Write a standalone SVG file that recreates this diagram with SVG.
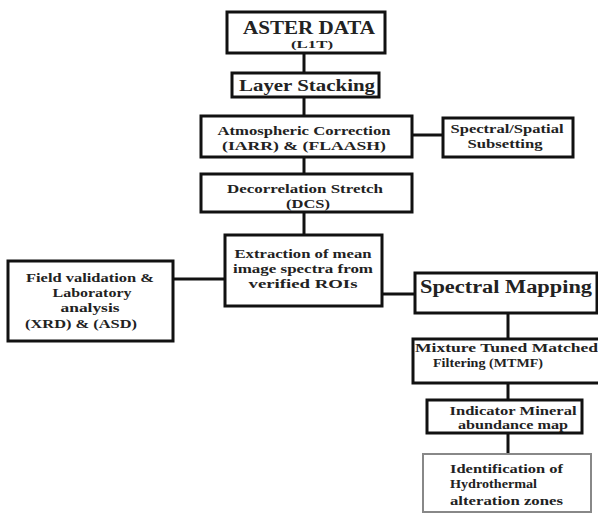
<svg xmlns="http://www.w3.org/2000/svg" width="598" height="517" viewBox="0 0 598 517" font-family="Liberation Serif, serif" font-weight="bold">
<style>
.box{fill:#fff;stroke:#111;stroke-width:3}
.ln{stroke:#111;stroke-width:3;fill:none}
text{fill:#222;font-size:13px}
.c{text-anchor:middle}
</style>
<rect width="598" height="517" fill="#fff"/>
<g id="connectors">
<line class="ln" x1="304" y1="53" x2="304" y2="73"/>
<line class="ln" x1="304" y1="97" x2="304" y2="116"/>
<line class="ln" x1="412" y1="135" x2="443" y2="135"/>
<line class="ln" x1="304" y1="157" x2="304" y2="174"/>
<line class="ln" x1="304" y1="212" x2="304" y2="235"/>
<line class="ln" x1="173" y1="279" x2="225" y2="279"/>
<line class="ln" x1="382" y1="294" x2="415" y2="294"/>
<line class="ln" x1="508" y1="313" x2="508" y2="339"/>
<line class="ln" x1="508" y1="383" x2="508" y2="400"/>
<line class="ln" x1="508" y1="433" x2="508" y2="454"/>
</g>
<g id="aster">
<rect class="box" x="227" y="12" width="158" height="41"/>
<text class="c" x="309" y="34" style="font-size:19px" textLength="132" lengthAdjust="spacingAndGlyphs">ASTER DATA</text>
<text class="c" x="312" y="48" style="font-size:11px" textLength="42" lengthAdjust="spacingAndGlyphs">(L1T)</text>
</g>
<g id="layer">
<rect class="box" x="232" y="73" width="147" height="24"/>
<text class="c" x="307" y="91" style="font-size:17px" textLength="136" lengthAdjust="spacingAndGlyphs">Layer Stacking</text>
</g>
<g id="atmos">
<rect class="box" x="201" y="116" width="211" height="41"/>
<text class="c" x="304" y="135" textLength="173" lengthAdjust="spacingAndGlyphs">Atmospheric Correction</text>
<text class="c" x="304" y="150" textLength="164" lengthAdjust="spacingAndGlyphs">(IARR) &amp; (FLAASH)</text>
</g>
<g id="subset">
<rect class="box" x="443" y="118" width="130" height="39"/>
<text class="c" x="507" y="133" textLength="113" lengthAdjust="spacingAndGlyphs">Spectral/Spatial</text>
<text class="c" x="505" y="148" textLength="75" lengthAdjust="spacingAndGlyphs">Subsetting</text>
</g>
<g id="dcs">
<rect class="box" x="201" y="174" width="211" height="38"/>
<text class="c" x="305" y="193" textLength="156" lengthAdjust="spacingAndGlyphs">Decorrelation Stretch</text>
<text class="c" x="308" y="208" textLength="44" lengthAdjust="spacingAndGlyphs">(DCS)</text>
</g>
<g id="extract">
<rect class="box" x="225" y="235" width="157" height="71"/>
<text class="c" x="303" y="258" textLength="137" lengthAdjust="spacingAndGlyphs">Extraction of mean</text>
<text class="c" x="303" y="273" textLength="140" lengthAdjust="spacingAndGlyphs">image spectra from</text>
<text class="c" x="303" y="288" textLength="109" lengthAdjust="spacingAndGlyphs">verified ROIs</text>
</g>
<g id="field">
<rect class="box" x="8" y="261" width="165" height="80"/>
<text class="c" x="90" y="282" textLength="128" lengthAdjust="spacingAndGlyphs">Field validation &amp;</text>
<text class="c" x="92" y="297" textLength="79" lengthAdjust="spacingAndGlyphs">Laboratory</text>
<text class="c" x="90" y="312" textLength="59" lengthAdjust="spacingAndGlyphs">analysis</text>
<text class="c" x="81" y="328" textLength="112" lengthAdjust="spacingAndGlyphs">(XRD) &amp; (ASD)</text>
</g>
<g id="spectral">
<rect class="box" x="415" y="273" width="182" height="40"/>
<text class="c" x="506" y="293" style="font-size:18px" textLength="172" lengthAdjust="spacingAndGlyphs">Spectral Mapping</text>
</g>
<g id="mtmf">
<rect class="box" x="413" y="339" width="190" height="44"/>
<text x="415" y="352" textLength="183" lengthAdjust="spacingAndGlyphs">Mixture Tuned Matched</text>
<text class="c" x="488" y="367" textLength="110" lengthAdjust="spacingAndGlyphs">Filtering (MTMF)</text>
</g>
<g id="indicator">
<rect class="box" x="427" y="400" width="155" height="33"/>
<text class="c" x="513" y="415" textLength="127" lengthAdjust="spacingAndGlyphs">Indicator Mineral</text>
<text class="c" x="513" y="429" textLength="110" lengthAdjust="spacingAndGlyphs">abundance map</text>
</g>
<g id="ident">
<rect class="box" x="423" y="454" width="168" height="58" style="stroke:#888;stroke-width:2"/>
<text x="450" y="473" textLength="113" lengthAdjust="spacingAndGlyphs">Identification of</text>
<text x="450" y="488" textLength="87" lengthAdjust="spacingAndGlyphs">Hydrothermal</text>
<text x="450" y="505" textLength="113" lengthAdjust="spacingAndGlyphs">alteration zones</text>
</g>
</svg>
